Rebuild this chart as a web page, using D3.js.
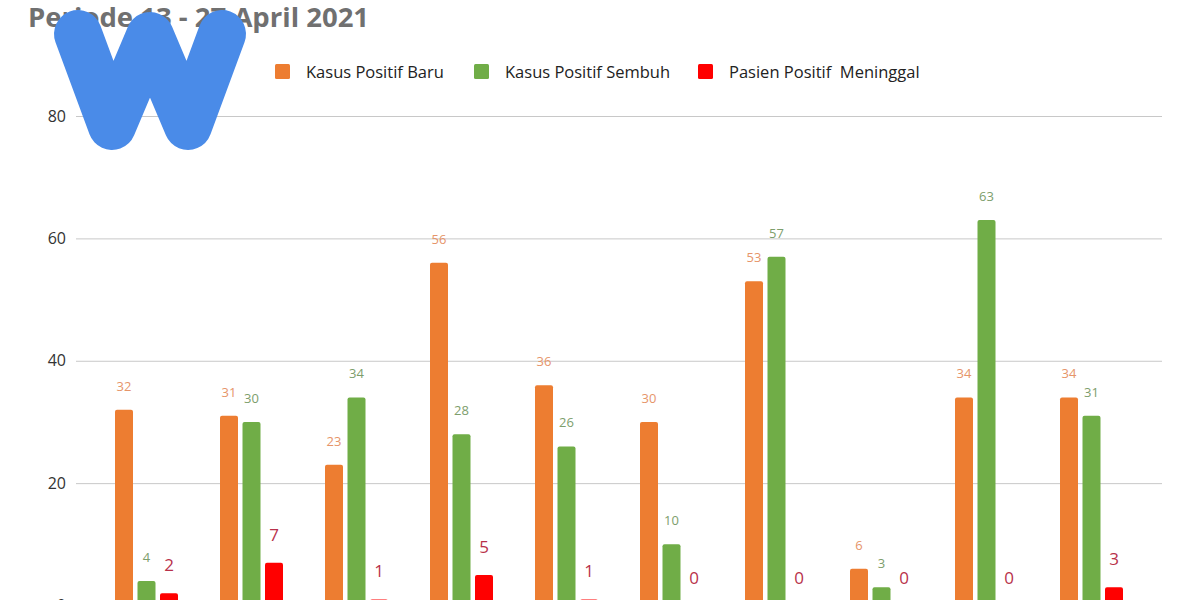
<!DOCTYPE html>
<html>
<head>
<meta charset="utf-8">
<script src="https://cdn.jsdelivr.net/npm/d3@7"></script>
<style>
  body { margin: 0; background: #fff; }
  svg { display: block; font-family: "Open Sans", sans-serif; }
</style>
</head>
<body>
<div id="vis"></div>
<script>
// chart values
const categories = ["1", "2", "3", "4", "5", "6", "7", "8", "9", "10"];
const series = ["Kasus Positif Baru", "Kasus Positif Sembuh", "Pasien Positif  Meninggal"];
const baru = [32, 31, 23, 56, 36, 30, 53, 6, 34, 34];
const sembuh = [4, 30, 34, 28, 26, 10, 57, 3, 63, 31];
const meninggal = [2, 7, 1, 5, 1, 0, 0, 0, 0, 3];
const yTicks = [0, 20, 40, 60, 80];

const WIDTH = 1200;
const HEIGHT = 600;

const colors = ["#ed7d31", "#70ad47", "#ff0000"];
const labelColors = ["#e6956a", "#7d9e6c", "#b8314a"];
const labelSizes = [13, 13, 17];
const labelGap = [19, 19, 22];

const values = [baru, sembuh, meninggal];

const svg = d3.select("#vis")
  .append("svg")
    .attr("width", WIDTH)
    .attr("height", HEIGHT);

const y = d3.scaleLinear().domain([0, 80]).range([605.5, 116]);

const x = d3.scaleBand()
  .domain(categories)
  .range([94, 1144])
  .paddingInner(0.4)
  .paddingOuter(0.2);

const xs = d3.scaleBand()
  .domain(series)
  .range([0, x.bandwidth()])
  .paddingInner(0.2);

// gridlines + y labels
const yAxis = d3.axisLeft(y)
  .tickValues(yTicks)
  .tickSize(-(1162 - 76))
  .tickPadding(10);

const gAxis = svg.append("g")
  .attr("transform", "translate(76,0)")
  .call(yAxis);
gAxis.select(".domain").remove();
gAxis.selectAll(".tick line").attr("stroke", "#c8c8c8").attr("stroke-width", 1);
gAxis.selectAll(".tick text")
  .attr("fill", "#333")
  .attr("font-size", 16)
  .attr("font-family", "'Open Sans', sans-serif");

// bars
series.forEach((s, si) => {
  const g = svg.append("g");
  g.selectAll("rect")
    .data(values[si])
    .enter()
    .append("rect")
      .attr("x", (d, i) => x(categories[i]) + xs(s))
      .attr("y", (d) => y(d))
      .attr("width", xs.bandwidth())
      .attr("height", (d) => y(0) - y(d) + 4)
      .attr("rx", 2)
      .attr("fill", colors[si]);

  g.selectAll("text")
    .data(values[si])
    .enter()
    .append("text")
      .attr("x", (d, i) => x(categories[i]) + xs(s) + xs.bandwidth() / 2)
      .attr("y", (d) => y(d) - labelGap[si])
      .attr("text-anchor", "middle")
      .attr("font-size", labelSizes[si])
      .attr("fill", labelColors[si])
      .text((d) => d);
});

// legend
const legendX = [275, 474, 698];
const legend = svg.append("g");
series.forEach((s, si) => {
  legend.append("rect")
    .attr("x", legendX[si])
    .attr("y", 64)
    .attr("width", 15)
    .attr("height", 15)
    .attr("rx", 1.5)
    .attr("fill", colors[si]);
  legend.append("text")
    .attr("x", legendX[si] + 31)
    .attr("y", 78)
    .attr("font-size", 16.5)
    .attr("fill", "#222")
    .style("white-space", "pre")
    .text(s);
});

// title
svg.append("text")
  .attr("x", 28)
  .attr("y", 27)
  .attr("font-size", 27.5)
  .attr("font-weight", "bold")
  .attr("fill", "#707070")
  .text("Periode 13 - 27 April 2021");

// blue W mark over the title
svg.append("path")
  .attr("d", d3.line()([[78, 34], [112, 126], [150, 36], [188, 126], [222, 34]]))
  .attr("fill", "none")
  .attr("stroke", "#4a8be8")
  .attr("stroke-width", 48)
  .attr("stroke-linecap", "round")
  .attr("stroke-linejoin", "round");
</script>
</body>
</html>
